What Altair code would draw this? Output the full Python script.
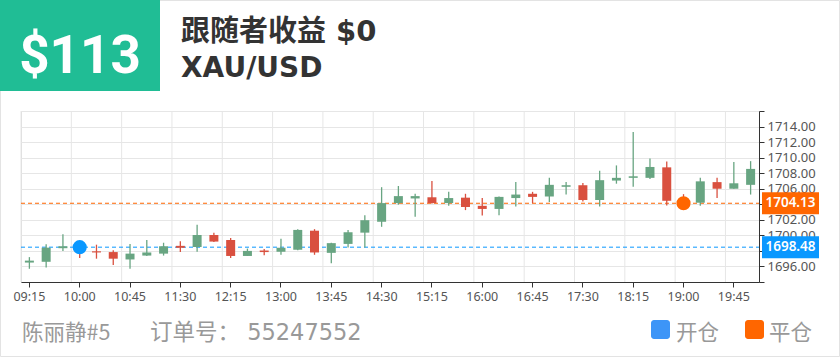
import altair as alt
import pandas as pd

# ---------------- data ----------------
times = ["09:15", "09:30", "09:45", "10:00", "10:15", "10:30", "10:45", "11:00", "11:15",
         "11:30", "11:45", "12:00", "12:15", "12:30", "12:45", "13:00", "13:15", "13:30",
         "13:45", "14:00", "14:15", "14:30", "14:45", "15:00", "15:15", "15:30", "15:45",
         "16:00", "16:15", "16:30", "16:45", "17:00", "17:15", "17:30", "17:45", "18:00",
         "18:15", "18:30", "18:45", "19:00", "19:15", "19:30", "19:45", "20:00"]
opens = [1696.50, 1696.60, 1698.35, 1698.50, 1697.95, 1697.85, 1696.90, 1697.40, 1697.65,
         1698.65, 1698.50, 1700.05, 1699.40, 1697.35, 1698.05, 1697.90, 1698.15, 1700.60,
         1697.75, 1698.90, 1700.35, 1701.75, 1704.15, 1704.75, 1704.90, 1704.15, 1704.85,
         1703.80, 1703.40, 1704.80, 1705.35, 1705.00, 1706.25, 1706.45, 1704.55, 1707.05,
         1707.40, 1707.40, 1708.75, 1704.50, 1704.20, 1706.85, 1706.00, 1706.50]
highs = [1697.20, 1698.85, 1700.15, 1698.70, 1698.80, 1698.10, 1698.90, 1699.40, 1699.05,
         1699.25, 1701.35, 1700.35, 1699.65, 1698.30, 1698.25, 1699.55, 1700.80, 1700.80,
         1699.05, 1700.70, 1702.60, 1706.20, 1706.35, 1705.35, 1707.00, 1705.60, 1705.35,
         1704.80, 1705.00, 1706.85, 1705.60, 1707.40, 1706.85, 1706.75, 1708.30, 1709.00,
         1713.30, 1709.90, 1709.50, 1705.30, 1707.40, 1707.40, 1709.45, 1709.55]
lows = [1695.70, 1695.85, 1698.00, 1697.10, 1697.00, 1696.20, 1695.70, 1697.35, 1697.40,
        1697.85, 1697.90, 1699.15, 1697.10, 1697.35, 1697.45, 1697.50, 1698.10, 1697.50,
        1696.40, 1698.45, 1698.45, 1701.10, 1703.95, 1702.40, 1704.10, 1703.80, 1703.25,
        1702.55, 1702.60, 1703.70, 1704.15, 1704.30, 1705.25, 1704.35, 1703.70, 1706.65,
        1706.25, 1707.25, 1703.85, 1704.00, 1703.80, 1704.80, 1706.00, 1705.25]
closes = [1696.75, 1698.42, 1698.60, 1698.30, 1697.80, 1697.00, 1697.65, 1697.80, 1698.60,
          1698.40, 1700.05, 1699.20, 1697.35, 1698.00, 1697.85, 1698.40, 1700.70, 1697.80,
          1699.00, 1700.40, 1701.95, 1704.15, 1705.05, 1705.05, 1704.15, 1704.80, 1703.65,
          1703.40, 1704.95, 1705.25, 1704.95, 1706.50, 1706.45, 1704.55, 1707.10, 1707.40,
          1707.60, 1708.80, 1704.45, 1704.20, 1706.95, 1706.00, 1706.70, 1708.55]

label_times = ["09:15", "10:00", "10:45", "11:30", "12:15", "13:00", "13:45", "14:30",
               "15:15", "16:00", "16:45", "17:30", "18:15", "19:00", "19:45"]
y_ticks = [1694, 1696, 1698, 1700, 1702, 1704, 1706, 1708, 1710, 1712, 1714, 1716]
y_hidden_labels = [1694, 1698, 1704, 1716]

trade_kind = ["open", "close"]
trade_time = ["10:00", "19:00"]
trade_price = [1698.48, 1704.13]
trade_label = ["1698.48", "1704.13"]
trade_color = ["#0a98ff", "#ff6600"]

header_profit = "$113"
header_title = "跟随者收益 $0"
header_symbol = "XAU/USD"
footer_name = "陈丽静#5"
footer_order = "订单号： 55247552"
legend_labels = ["开仓", "平仓"]
legend_colors = ["#3d95f7", "#ff6600"]

# ---------------- layout ----------------
W, H = 738, 171
PAD_L, PAD_T = 21, 111
UP, DOWN = "#68a582", "#d9503f"
CJK = "Noto Sans CJK SC"
FONT = "Noto Sans"
LATIN_CJK = "DejaVu Sans, Noto Sans CJK SC"

candles = pd.DataFrame({"t": times, "o": opens, "h": highs, "l": lows, "c": closes})
candles["dir"] = ["up" if c >= o else "down" for o, c in zip(opens, closes)]
grid_df = pd.DataFrame({"t": label_times})
trades = pd.DataFrame({"t": trade_time, "p": trade_price, "lab": trade_label,
                       "col": trade_color, "kind": trade_kind})
one = pd.DataFrame({"k": [0]})

xscale = alt.Scale(type="band", domain=times, paddingInner=0, paddingOuter=0)
yscale = alt.Scale(domain=[1694, 1716], nice=False, zero=False)

hidden_expr = " || ".join(f"datum.value == {v}" for v in y_hidden_labels)
xaxis = alt.Axis(values=label_times, labelAngle=0, grid=False, bandPosition=0.5,
                 domainColor="#333333", tickColor="#333333", tickSize=5,
                 labelColor="#555555", labelFontSize=12.5, labelFont=FONT, labelPadding=3,
                 labelFlush=False, labelOverlap=False)
yaxis = alt.Axis(orient="right", values=y_ticks, tickCount=len(y_ticks), grid=True,
                 gridColor="#e6e6e6",
                 domainColor="#333333", tickColor="#333333", tickSize=5,
                 labelColor="#555555", labelFontSize=13, labelFont=FONT, labelPadding=3,
                 labelOverlap=False, labelBound=False, labelFlush=False,
                 labelExpr=f"({hidden_expr}) ? '' : format(datum.value, '.2f')")

colscale = alt.Scale(domain=["up", "down"], range=[UP, DOWN])

grid = alt.Chart(grid_df).mark_rule(color="#e6e6e6", strokeWidth=1).encode(
    x=alt.X("t:N", scale=xscale, axis=xaxis, title=None, bandPosition=0),
    y=alt.value(0), y2=alt.value(H))

wicks = alt.Chart(candles).mark_rule(strokeWidth=1.3).encode(
    x=alt.X("t:N", scale=xscale, title=None),
    y=alt.Y("l:Q", scale=yscale, axis=yaxis, title=None),
    y2="h:Q",
    color=alt.Color("dir:N", scale=colscale, legend=None))

bodies = alt.Chart(candles).mark_bar(size=9).encode(
    x=alt.X("t:N", scale=xscale, title=None),
    y=alt.Y("o:Q", scale=yscale, title=None),
    y2="c:Q",
    color=alt.Color("dir:N", scale=colscale, legend=None))

dashes = alt.Chart(trades).mark_rule(strokeDash=[4, 3], strokeWidth=1).encode(
    y=alt.Y("p:Q", scale=yscale, title=None),
    x=alt.value(0), x2=alt.value(W),
    color=alt.Color("col:N", scale=None))

dots = alt.Chart(trades).mark_circle(size=200, opacity=1).encode(
    x=alt.X("t:N", scale=xscale, title=None),
    y=alt.Y("p:Q", scale=yscale, title=None),
    color=alt.Color("col:N", scale=None))

boxes = alt.Chart(trades).mark_rect(height=22).encode(
    y=alt.Y("p:Q", scale=yscale, title=None),
    x=alt.value(741), x2=alt.value(798),
    color=alt.Color("col:N", scale=None))

box_text = alt.Chart(trades).mark_text(align="center", baseline="middle", color="white",
                                       fontSize=13.5, font=FONT, fontWeight=600).encode(
    y=alt.Y("p:Q", scale=yscale, title=None),
    x=alt.value(769.5), text="lab:N")

# header
head_box = alt.Chart(one).mark_rect(color="#20bd95").encode(
    x=alt.value(-PAD_L), x2=alt.value(139), y=alt.value(-PAD_T), y2=alt.value(-20))
head_profit = alt.Chart(one).mark_text(text=header_profit, color="white", fontSize=53,
                                       fontWeight="bold", font="Roboto", align="center",
                                       baseline="alphabetic").encode(
    x=alt.value(59), y=alt.value(-38))
head_title = alt.Chart(one).mark_text(text=header_title, color="#333333", fontSize=29,
                                      fontWeight="bold", font=LATIN_CJK, align="left",
                                      baseline="alphabetic").encode(
    x=alt.value(160), y=alt.value(-70))
head_sym = alt.Chart(one).mark_text(text=header_symbol, color="#333333", fontSize=28,
                                    fontWeight="bold", font=LATIN_CJK, align="left",
                                    baseline="alphabetic").encode(
    x=alt.value(160), y=alt.value(-34))

# footer
foot_name = alt.Chart(one).mark_text(text=footer_name, color="#999999", fontSize=21.5,
                                     font=CJK, align="left", baseline="alphabetic").encode(
    x=alt.value(1), y=alt.value(229))
foot_order = alt.Chart(one).mark_text(text=footer_order, color="#999999", fontSize=22.5,
                                      font=LATIN_CJK, align="left", baseline="alphabetic").encode(
    x=alt.value(129), y=alt.value(229))
leg_df = pd.DataFrame({"lab": legend_labels, "col": legend_colors,
                       "xs": [630, 724], "xt": [655, 748]})
leg_sq = alt.Chart(leg_df).transform_calculate(xe="datum.xs + 19").mark_rect(cornerRadius=3).encode(
    x=alt.X("xs:Q", scale=None), x2="xe:Q", y=alt.value(209), y2=alt.value(228),
    color=alt.Color("col:N", scale=None))
leg_tx = alt.Chart(leg_df).mark_text(color="#999999", fontSize=21.5, font=CJK, align="left",
                                     baseline="alphabetic").encode(
    x=alt.X("xt:Q", scale=None), y=alt.value(229), text="lab:N")

border = alt.Chart(one).mark_rect(fill=None, stroke="#e3e3e3", strokeWidth=1).encode(
    x=alt.value(-PAD_L + 0.5), x2=alt.value(840 - PAD_L - 0.5),
    y=alt.value(-PAD_T + 0.5), y2=alt.value(357 - PAD_T - 0.5))

chart = alt.layer(
    grid, dashes, wicks, bodies, dots, boxes, box_text,
    border, head_box, head_profit, head_title, head_sym,
    foot_name, foot_order, leg_sq, leg_tx
).properties(
    width=W, height=H,
    autosize=alt.AutoSizeParams(type="none"),
    padding={"left": PAD_L, "top": PAD_T, "right": 840 - PAD_L - W, "bottom": 357 - PAD_T - H},
    background="white",
).configure_view(stroke=None).configure(font=FONT)

chart.save("out.html", embed_options={"renderer": "svg", "actions": False})
